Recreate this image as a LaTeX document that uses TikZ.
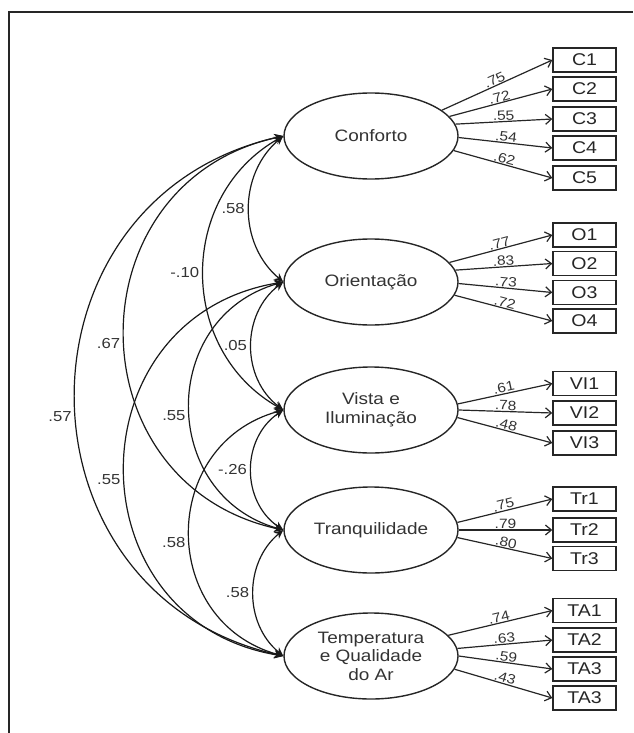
\documentclass[tikz,border=0pt]{standalone}
\usepackage{fontspec}
\setmainfont{Liberation Sans}[FakeStretch=1.15]
\usetikzlibrary{shapes.geometric,arrows.meta}
\begin{document}
\begin{tikzpicture}[x=1pt,y=1pt,
  lat/.style={ellipse, draw=black!85, line width=1.4pt, minimum width=174pt, minimum height=86pt, inner sep=0pt, align=center, font=\fontsize{16.5}{18.5}\selectfont, text=black!80},
  obs/.style={rectangle, draw=black!85, line width=1.4pt, minimum width=63pt, minimum height=24pt, inner sep=0pt, font=\fontsize{17}{19}\selectfont, text=black!85},
  load/.style={draw=black!85, line width=1.2pt, -{Straight Barb[length=6pt,width=10pt,line width=1.2pt]}},
  ll/.style={sloped, above, pos=0.5, inner sep=0.6pt, font=\fontsize{13.5}{14}\selectfont, text=black!80},
  cov/.style={draw=black!90, line width=1.2pt, {Stealth[length=9pt,width=8pt]}-{Stealth[length=9pt,width=8pt]}},
  cl/.style={pos=0.5, anchor=east, inner sep=4pt, font=\fontsize{14.5}{16}\selectfont, text=black!80},
]
\useasboundingbox (0,-733) rectangle (633,0);
% frame
\draw[line width=2.4pt, black!85] (9,-733) coordinate (fb) -- (9,-12) coordinate (fc) -- (633,-12) coordinate (fr);

% latent factors
\node[lat] (c)  at (371,-136) {Conforto};
\node[lat] (o)  at (371,-282) {Orientação};
\node[lat] (v)  at (371,-410) {Vista e\\Iluminação};
\node[lat] (tr) at (371,-530) {Tranquilidade};
\node[lat] (ta) at (371,-656) {Temperatura\\e Qualidade\\do Ar};

% indicators
\node[obs] (c1) at (584.5,-60) {C1};
\node[obs] (c2) at (584.5,-89) {C2};
\node[obs] (c3) at (584.5,-119) {C3};
\node[obs] (c4) at (584.5,-148) {C4};
\node[obs] (c5) at (584.5,-178) {C5};
\node[obs] (o1) at (584.5,-235) {O1};
\node[obs] (o2) at (584.5,-263.5) {O2};
\node[obs] (o3) at (584.5,-292.5) {O3};
\node[obs] (o4) at (584.5,-321) {O4};
\node[obs] (v1) at (584.5,-383.5) {VI1};
\node[obs] (v2) at (584.5,-413) {VI2};
\node[obs] (v3) at (584.5,-443) {VI3};
\node[obs] (t1) at (584.5,-499) {Tr1};
\node[obs] (t2) at (584.5,-530) {Tr2};
\node[obs] (t3) at (584.5,-558.5) {Tr3};
\node[obs] (a1) at (584.5,-610.5) {TA1};
\node[obs] (a2) at (584.5,-640) {TA2};
\node[obs] (a3) at (584.5,-669) {TA3};
\node[obs] (a4) at (584.5,-698) {TA3};

% loadings
\draw[load] (c.20) -- node[ll]{.75} (c1.west);
\draw[load] (c.14) -- node[ll]{.72} (c2.west);
\draw[load] (c.8) -- node[ll]{.55} (c3.west);
\draw[load] (c.-1) -- node[ll]{.54} (c4.west);
\draw[load] (c.-10) -- node[ll]{.62} (c5.west);

\draw[load] (o.14) -- node[ll]{.77} (o1.west);
\draw[load] (o.8) -- node[ll]{.83} (o2.west);
\draw[load] (o.-1) -- node[ll]{.73} (o3.west);
\draw[load] (o.-9) -- node[ll]{.72} (o4.west);

\draw[load] (v.4) -- node[ll]{.61} (v1.west);
\draw[load] (v.0) -- node[ll]{.78} (v2.west);
\draw[load] (v.-5) -- node[ll]{.48} (v3.west);

\draw[load] (tr.5) -- node[ll]{.75} (t1.west);
\draw[load] (tr.0) -- node[ll]{.79} (t2.west);
\draw[load] (tr.-5) -- node[ll]{.80} (t3.west);

\draw[load] (ta.15) -- node[ll]{.74} (a1.west);
\draw[load] (ta.5) -- node[ll]{.63} (a2.west);
\draw[load] (ta.0) -- node[ll]{.59} (a3.west);
\draw[load] (ta.-9) -- node[ll]{.43} (a4.west);

% covariances
\draw[cov] (c.west) to[bend right=50, looseness=1.04] node[cl]{.58} (o.west);
\draw[cov] (c.west) to[bend right=60.6, looseness=1.14] node[cl]{-.10} (v.west);
\draw[cov] (c.west) to[bend right=77.8, looseness=1.41] node[cl, pos=0.52]{.67} (tr.west);
\draw[cov] (c.west) to[bend right=77.4, looseness=1.40] node[cl, pos=0.53]{.57} (ta.west);
\draw[cov] (o.west) to[bend right=53, looseness=1.06] node[cl]{.05} (v.west);
\draw[cov] (o.west) to[bend right=74.3, looseness=1.34] node[cl, pos=0.53]{.55} (tr.west);
\draw[cov] (o.west) to[bend right=80.6, looseness=1.47] node[cl, pos=0.52]{.55} (ta.west);
\draw[cov] (v.west) to[bend right=56.2, looseness=1.09] node[cl]{-.26} (tr.west);
\draw[cov] (v.west) to[bend right=74.6, looseness=1.35] node[cl, pos=0.53]{.58} (ta.west);
\draw[cov] (tr.west) to[bend right=50.6, looseness=1.04] node[cl]{.58} (ta.west);
\end{tikzpicture}
\end{document}
